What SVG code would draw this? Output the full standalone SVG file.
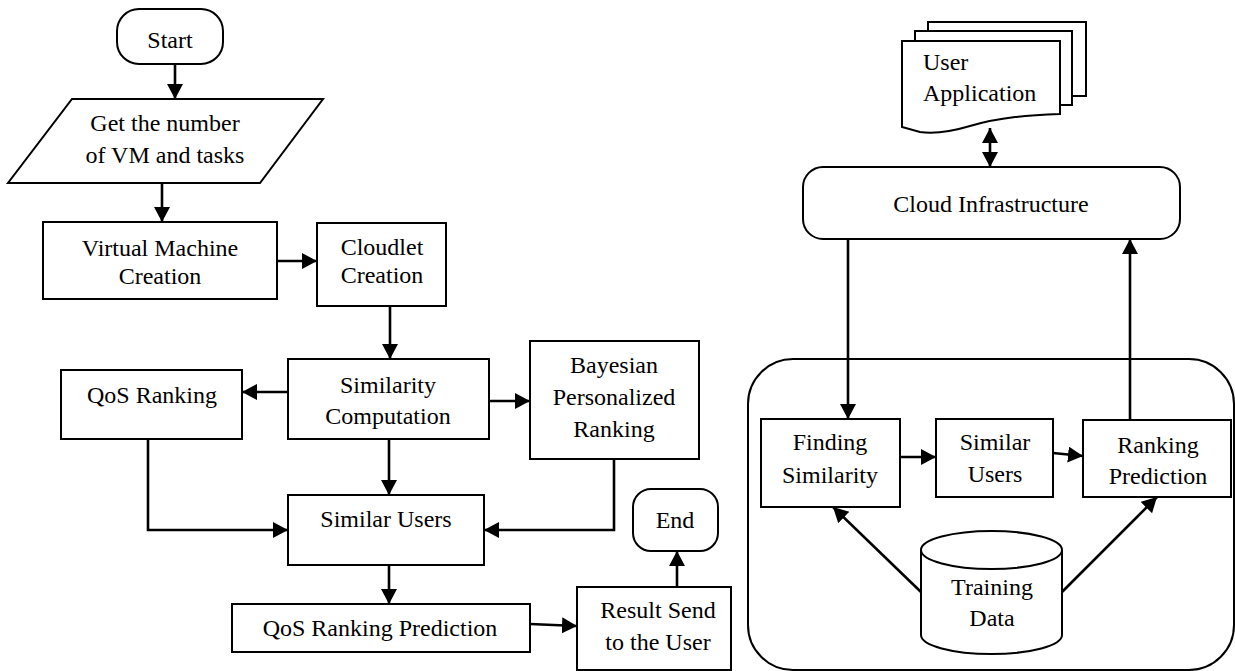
<svg xmlns="http://www.w3.org/2000/svg" width="1235" height="671" viewBox="0 0 1235 671">
<style>
.n{fill:#fff;stroke:#000;stroke-width:2}
text{font-family:'Liberation Serif','Times New Roman','DejaVu Serif',serif;font-size:24px;fill:#000;text-anchor:middle}
.l{text-anchor:start}
.c{fill:none;stroke:#000;stroke-width:2.6}
</style>
<defs>
<marker id="a" markerUnits="userSpaceOnUse" markerWidth="16" markerHeight="18" refX="15" refY="8" orient="auto"><path d="M0,0 L15,8 L0,16 Z" fill="#000"/></marker>
<marker id="s" markerUnits="userSpaceOnUse" markerWidth="16" markerHeight="18" refX="0" refY="8" orient="auto"><path d="M15,0 L0,8 L15,16 Z" fill="#000"/></marker>
</defs>
<rect width="1235" height="671" fill="#fff"/>

<g id="cloud-panel"><rect class="n" x="748" y="359" width="486" height="311" rx="45"/></g>

<g id="start"><rect class="n" x="117" y="9" width="106" height="55" rx="22"/><text x="170" y="48">Start</text></g>
<g id="input"><path class="n" d="M72,99 L323,99 L260,183 L8,183 Z"/><text x="165" y="131">Get the number</text><text x="165" y="163">of VM and tasks</text></g>
<g id="vm"><rect class="n" x="43" y="222" width="234" height="77"/><text x="160" y="256">Virtual Machine</text><text x="160" y="284">Creation</text></g>
<g id="cloudlet"><rect class="n" x="317" y="223" width="129" height="83"/><text x="382" y="255">Cloudlet</text><text x="382" y="283">Creation</text></g>
<g id="similarity"><rect class="n" x="288" y="359" width="201" height="80"/><text x="388" y="393">Similarity</text><text x="388" y="424">Computation</text></g>
<g id="qos"><rect class="n" x="61" y="370" width="181" height="69"/><text x="152" y="403">QoS Ranking</text></g>
<g id="bpr"><rect class="n" x="530" y="341" width="169" height="118"/><text x="614" y="373">Bayesian</text><text x="614" y="405">Personalized</text><text x="614" y="437">Ranking</text></g>
<g id="similar-users"><rect class="n" x="288" y="495" width="196" height="70"/><text x="386" y="527">Similar Users</text></g>
<g id="qos-pred"><rect class="n" x="232" y="604" width="298" height="48"/><text x="380" y="636">QoS Ranking Prediction</text></g>
<g id="result"><rect class="n" x="577" y="587" width="154" height="83"/><text x="658" y="618">Result Send</text><text x="658" y="650">to the User</text></g>
<g id="end"><rect class="n" x="633" y="489" width="85" height="62" rx="18"/><text x="675" y="528">End</text></g>

<g id="user-app">
<rect class="n" x="928" y="22" width="158" height="74"/>
<rect class="n" x="915" y="31" width="157" height="74"/>
<path class="n" d="M902,41 L1060,41 L1060,114 C1030,115 1000,117 970,126 C950,132 935,134 920,132 L902,127 Z"/>
<text class="l" x="923" y="70">User</text><text class="l" x="923" y="101">Application</text>
</g>
<g id="cloud-infra"><rect class="n" x="803" y="167" width="377" height="72" rx="20"/><text x="991" y="212">Cloud Infrastructure</text></g>
<g id="finding"><rect class="n" x="761" y="419" width="139" height="88"/><text x="830" y="450">Finding</text><text x="830" y="483">Similarity</text></g>
<g id="similar-users-2"><rect class="n" x="936" y="419" width="117" height="78"/><text x="995" y="450">Similar</text><text x="995" y="482">Users</text></g>
<g id="ranking-pred"><rect class="n" x="1083" y="420" width="148" height="77"/><text x="1158" y="453">Ranking</text><text x="1158" y="484">Prediction</text></g>
<g id="training"><path class="n" d="M921,550 L921,635 A70.5,19 0 0 0 1062,635 L1062,550"/><ellipse class="n" cx="991.5" cy="550" rx="70.5" ry="19"/><text x="992" y="595">Training</text><text x="992" y="626">Data</text></g>

<g id="connectors">
<path class="c" d="M175,64 L175,99" marker-end="url(#a)"/>
<path class="c" d="M162,183 L162,222" marker-end="url(#a)"/>
<path class="c" d="M277,261 L317,261" marker-end="url(#a)"/>
<path class="c" d="M390,306 L390,359" marker-end="url(#a)"/>
<path class="c" d="M288,392 L242,392" marker-end="url(#a)"/>
<path class="c" d="M489,401 L530,401" marker-end="url(#a)"/>
<path class="c" d="M389,439 L389,495" marker-end="url(#a)"/>
<path class="c" d="M148,439 L148,530 L288,530" marker-end="url(#a)"/>
<path class="c" d="M614,459 L614,530 L484,530" marker-end="url(#a)"/>
<path class="c" d="M389,565 L389,604" marker-end="url(#a)"/>
<path class="c" d="M530,624 L577,626" marker-end="url(#a)"/>
<path class="c" d="M677,587 L677,551" marker-end="url(#a)"/>
<path class="c" d="M990,128 L990,167" marker-start="url(#s)" marker-end="url(#a)"/>
<path class="c" d="M848,239 L848,419" marker-end="url(#a)"/>
<path class="c" d="M1130,420 L1130,239" marker-end="url(#a)"/>
<path class="c" d="M900,457 L936,457" marker-end="url(#a)"/>
<path class="c" d="M1053,453 L1083,456" marker-end="url(#a)"/>
<path class="c" d="M921,592 L833,507" marker-end="url(#a)"/>
<path class="c" d="M1062,592 L1157,497" marker-end="url(#a)"/>
</g>
</svg>
